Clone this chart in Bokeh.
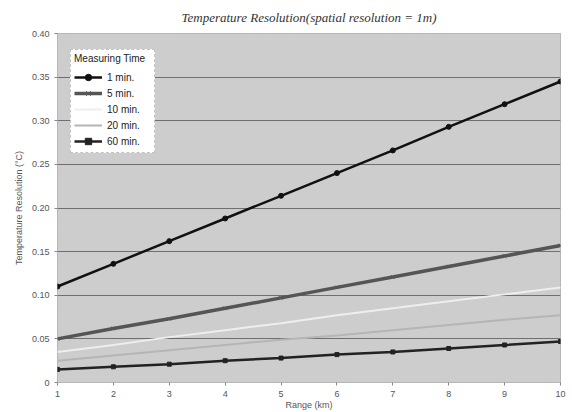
from bokeh.plotting import figure
from bokeh.embed import file_html
from bokeh.resources import INLINE
from bokeh.models import FixedTicker, Legend, LegendItem

range_km = [1, 2, 3, 4, 5, 6, 7, 8, 9, 10]
res_1min = [0.110, 0.136, 0.162, 0.188, 0.214, 0.240, 0.266, 0.293, 0.319, 0.345]
res_5min = [0.050, 0.062, 0.073, 0.085, 0.097, 0.109, 0.121, 0.133, 0.145, 0.157]
res_10min = [0.035, 0.043, 0.052, 0.060, 0.068, 0.077, 0.085, 0.093, 0.101, 0.109]
res_20min = [0.025, 0.031, 0.037, 0.043, 0.049, 0.054, 0.060, 0.066, 0.072, 0.077]
res_60min = [0.015, 0.018, 0.021, 0.025, 0.028, 0.032, 0.035, 0.039, 0.043, 0.047]

series_labels = ["1 min.", "5 min.", "10 min.", "20 min.", "60 min."]
y_ticks = [0, 0.05, 0.10, 0.15, 0.20, 0.25, 0.30, 0.35, 0.40]
y_tick_labels = ["0", "0.05", "0.10", "0.15", "0.20", "0.25", "0.30", "0.35", "0.40"]
x_ticks = [1, 2, 3, 4, 5, 6, 7, 8, 9, 10]

p = figure(width=572, height=412, output_backend="svg", toolbar_location=None,
           x_range=(1, 10), y_range=(0, 0.40),
           title="Temperature Resolution(spatial resolution = 1m)")
p.min_border_left = 57
p.min_border_right = 12
p.min_border_top = 33
p.min_border_bottom = 5

p.title.text_font = "Liberation Serif"
p.title.text_font_style = "italic"
p.title.text_font_size = "13px"
p.title.text_color = "#333333"
p.title.align = "center"
p.title.offset = 0
p.title.standoff = 14
p.title.vertical_align = "top"

p.background_fill_color = "#cdcdcd"
p.border_fill_color = "white"
p.outline_line_color = "#888888"
p.outline_line_dash = "1 1"

p.xgrid.grid_line_color = None
p.ygrid.grid_line_color = "#6f6f6f"
p.ygrid.grid_line_width = 1

p.yaxis.ticker = FixedTicker(ticks=y_ticks)
p.yaxis.major_label_overrides = {t: l for t, l in zip(y_ticks, y_tick_labels)}
p.xaxis.ticker = FixedTicker(ticks=x_ticks)
for ax in (p.xaxis, p.yaxis):
    ax.axis_line_color = None
    ax.major_tick_line_color = "#888888"
    ax.minor_tick_line_color = None
    ax.major_tick_in = 0
    ax.major_tick_out = 3
    ax.major_label_text_font = "Liberation Sans"
    ax.major_label_text_font_size = "9px"
    ax.major_label_text_color = "#555555"
    ax.axis_label_text_font = "Liberation Sans"
    ax.axis_label_text_font_size = "9px"
    ax.axis_label_text_font_style = "normal"
    ax.axis_label_text_color = "#555555"
p.xaxis.major_label_standoff = 5
p.xaxis.axis_label_standoff = 0
p.xaxis.axis_label = "Range (km)"
p.yaxis.axis_label = "Temperature Resolution (°C)"

styles = [
    (res_1min, "#111111", 2.5, "circle", 5),
    (res_5min, "#555555", 3.5, "x", 5),
    (res_10min, "#eeeeee", 2, "dot", 4),
    (res_20min, "#b5b5b5", 2, "dot", 4),
    (res_60min, "#222222", 2.5, "square", 4),
]
items = []
for (vals, col, lw, mk, ms), lab in zip(styles, series_labels):
    r1 = p.line(range_km, vals, line_color=col, line_width=lw)
    r2 = p.scatter(range_km, vals, marker=mk, size=ms, line_color=col, fill_color=col)
    items.append(LegendItem(label=lab, renderers=[r1, r2]))

leg = Legend(items=items, location=(13, 229), title="Measuring Time",
             title_text_font="Liberation Sans", title_text_font_size="10px",
             title_text_font_style="normal", title_standoff=5,
             label_text_font="Liberation Sans", label_text_font_size="10px",
             label_text_color="#222222", title_text_color="#222222",
             background_fill_color="white", background_fill_alpha=1,
             border_line_color="#888888", border_line_dash="1 1",
             glyph_height=16, label_height=16, spacing=0, padding=3,
             margin=0, glyph_width=28, label_width=44)
p.add_layout(leg)

open("out.html", "w").write(file_html(p, INLINE))
